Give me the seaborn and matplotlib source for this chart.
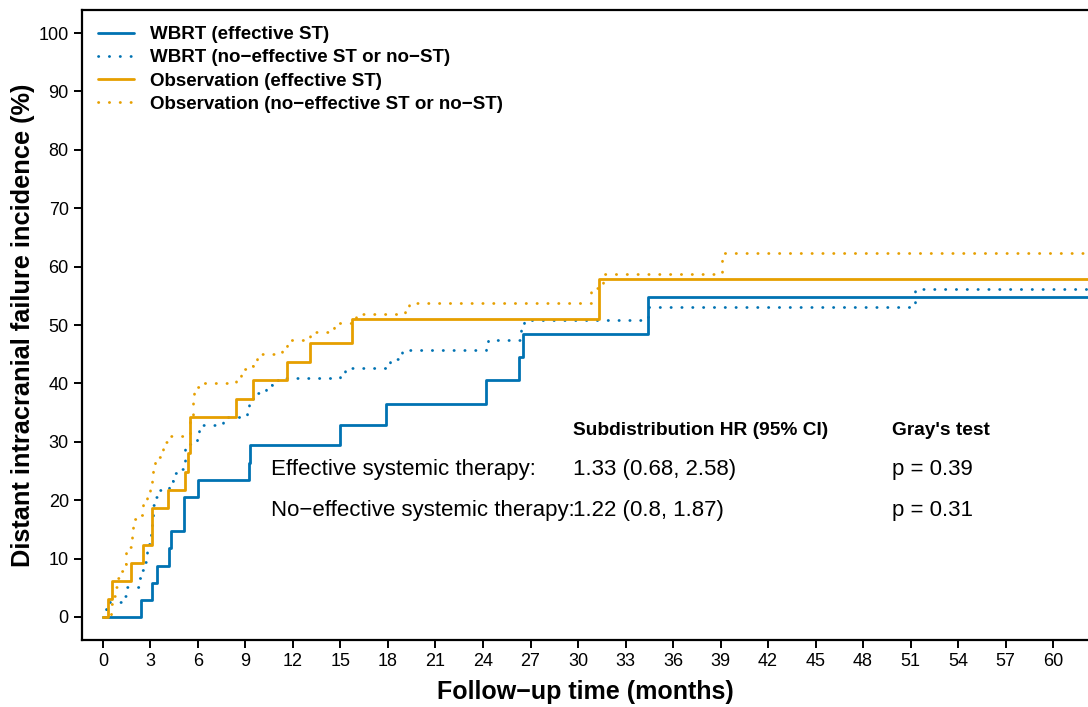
import numpy as np
import pandas as pd
import matplotlib
matplotlib.use("Agg")
import matplotlib.pyplot as plt
import seaborn as sns

# ---------------- data ----------------
wbrt_eff_t = [0, 2.4, 3.1, 3.4, 4.2, 4.3, 5.1, 6.0, 9.2, 9.3, 15.0, 17.9, 24.2, 26.3, 26.5, 34.4, 64]
wbrt_eff_v = [0, 2.9, 5.9, 8.8, 11.8, 14.7, 20.5, 23.5, 26.4, 29.4, 32.9, 36.5, 40.5, 44.5, 48.5, 54.8, 54.8]

wbrt_non_t = [0, 0.2, 0.4, 1.4, 1.45, 2.3, 2.4, 2.6, 2.7, 2.8, 3.0, 3.05, 3.1, 3.15, 3.2, 3.4,
              4.2, 4.4, 4.8, 5.1, 5.15, 5.2, 5.95, 6.05, 7.6, 9.1, 9.2, 9.5, 9.9, 10.3, 10.7, 11.2,
              15.0, 15.3, 17.9, 18.1, 18.9, 24.2, 24.3, 26.4, 26.6, 34.4, 51.3, 64]
wbrt_non_v = [0, 1.3, 2.6, 3.6, 5.1, 6.6, 8.1, 9.5, 11.0, 12.5, 13.9, 15.5, 17.3, 19.1, 20.5, 21.8,
              23.3, 24.6, 25.4, 26.3, 28.0, 29.7, 31.3, 32.8, 34.2, 35.6, 37.2, 38.3, 38.9, 39.7, 40.6, 41.0,
              41.7, 42.6, 43.0, 44.2, 45.8, 46.1, 47.5, 49.1, 50.8, 53.0, 56.1, 56.1]

obs_eff_t = [0, 0.3, 0.6, 1.8, 2.5, 3.1, 4.1, 5.2, 5.4, 5.5, 8.4, 9.5, 11.6, 13.1, 15.7, 31.3, 64]
obs_eff_v = [0, 3.1, 6.2, 9.3, 12.4, 18.7, 21.8, 24.9, 28.0, 34.3, 37.4, 40.6, 43.7, 47.0, 51.0, 57.9, 57.9]

obs_non_t = [0, 0.5, 0.7, 0.8, 0.9, 1.2, 1.4, 1.45, 1.7, 1.8, 1.85, 1.9, 2.3, 2.5, 2.8, 3.0, 3.1,
             3.15, 3.3, 3.6, 3.8, 4.1, 5.5, 5.7, 5.75, 6.2, 8.4, 8.7, 9.1, 9.5, 9.7, 11.3, 11.6,
             13.1, 14.3, 14.6, 15.7, 16.0, 19.1, 19.3, 30.8, 31.1, 31.6, 39.1, 64]
obs_non_v = [0, 2.3, 3.6, 5.2, 6.7, 7.8, 9.1, 10.9, 11.9, 13.4, 15.2, 16.8, 17.5, 19.1, 21.6, 23.0, 24.5,
             26.2, 27.4, 28.6, 30.0, 31.0, 34.6, 37.4, 39.3, 40.0, 41.3, 42.5, 43.0, 43.7, 45.0, 46.2, 47.4,
             48.8, 49.1, 50.3, 51.0, 51.9, 52.6, 53.8, 55.6, 56.4, 58.8, 62.4, 62.4]

series_labels = ["WBRT (effective ST)",
                 "WBRT (no\u2212effective ST or no\u2212ST)",
                 "Observation (effective ST)",
                 "Observation (no\u2212effective ST or no\u2212ST)"]

x_ticks = list(range(0, 61, 3))
y_ticks = list(range(0, 101, 10))

row_labels = ["Effective systemic therapy:", "No\u2212effective systemic therapy:"]
hr_texts = ["1.33 (0.68, 2.58)", "1.22 (0.8, 1.87)"]
p_texts = ["p = 0.39", "p = 0.31"]

# ---------------- style ----------------
sns.set_style("ticks")
plt.rcParams["font.family"] = ["Liberation Sans", "DejaVu Sans"]
plt.rcParams["text.color"] = "black"
plt.rcParams["axes.labelcolor"] = "black"
plt.rcParams["xtick.color"] = "black"
plt.rcParams["ytick.color"] = "black"

BLUE = "#0072B2"
ORANGE = "#E69F00"
DOT = (0, (0.1, 3.8))

fig = plt.figure(figsize=(10.88, 7.07), dpi=100)
ax = fig.add_axes([82 / 1088, 67 / 707, 1 - 82 / 1088, (640 - 10) / 707])

specs = [
    (wbrt_eff_t, wbrt_eff_v, BLUE, "-"),
    (wbrt_non_t, wbrt_non_v, BLUE, DOT),
    (obs_eff_t, obs_eff_v, ORANGE, "-"),
    (obs_non_t, obs_non_v, ORANGE, DOT),
]
for (t, v, c, ls), lab in zip(specs, series_labels):
    df = pd.DataFrame({"t": t, "v": v})
    sns.lineplot(data=df, x="t", y="v", ax=ax, color=c, linestyle=ls, lw=2.0,
                 drawstyle="steps-post", estimator=None, sort=False, label=lab,
                 dash_capstyle="round")

ax.set_xlim(-1.326, 62.21)
ax.set_ylim(-3.94, 103.94)
ax.set_xticks(x_ticks)
ax.set_yticks(y_ticks)
ax.tick_params(axis="both", labelsize=13, length=6, width=1.4, direction="out", color="black",
               labelcolor="black")
for side in ["left", "bottom", "top"]:
    ax.spines[side].set_visible(True)
    ax.spines[side].set_linewidth(1.6)
    ax.spines[side].set_color("black")
ax.spines["right"].set_visible(False)

ax.set_xlabel("Follow\u2212up time (months)", fontsize=18, fontweight="bold", labelpad=7)
ax.set_ylabel("Distant intracranial failure incidence (%)", fontsize=18.3, fontweight="bold", labelpad=2.5)

leg = ax.legend(loc="upper left", bbox_to_anchor=(0.0, 1.0), frameon=False,
                prop={"size": 13.5, "weight": "bold"}, handlelength=1.9, handletextpad=0.9,
                labelspacing=0.33, borderaxespad=0.55, borderpad=0.3)
for txt in leg.get_texts():
    txt.set_color("black")

# annotation table
ax.text(29.7, 32.0, "Subdistribution HR (95% CI)", fontsize=13.8, fontweight="bold", va="center", ha="left")
ax.text(49.8, 32.0, "Gray's test", fontsize=13.8, fontweight="bold", va="center", ha="left")
row_y = [25.2, 18.2]
for y, rl, hr, p in zip(row_y, row_labels, hr_texts, p_texts):
    ax.text(10.6, y, rl, fontsize=16, va="center", ha="left")
    ax.text(29.7, y, hr, fontsize=16, va="center", ha="left")
    ax.text(49.8, y, p, fontsize=16, va="center", ha="left")

fig.savefig("out.png", dpi=100)
